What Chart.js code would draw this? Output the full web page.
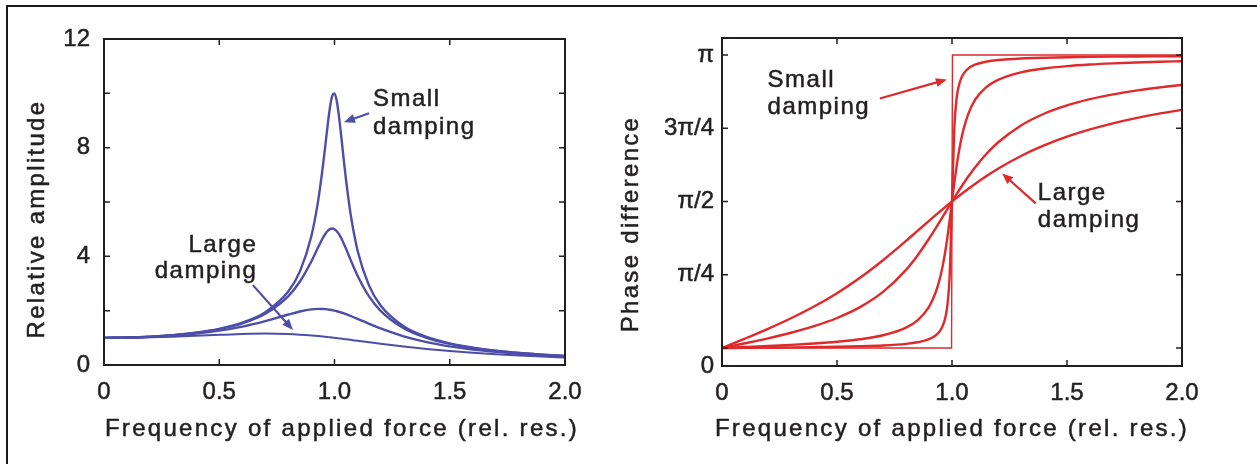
<!DOCTYPE html>
<html>
<head>
<meta charset="utf-8">
<script src="https://cdn.jsdelivr.net/npm/chart.js@4.4.0/dist/chart.umd.min.js"></script>
<style>
  html, body { margin: 0; padding: 0; background: #fff; }
  #wrap { position: relative; width: 1257px; height: 464px; overflow: hidden; }
  #ampChart { position: absolute; left: 0; top: 0; }
  #phaseChart { position: absolute; left: 600px; top: 0; }
  #frame { position: absolute; left: 6px; top: 5px; right: -10px; bottom: -10px;
           border-left: 2px solid #1a1a1a; border-top: 2px solid #1a1a1a; pointer-events: none; }
</style>
</head>
<body>
<div id="wrap">
  <canvas id="ampChart" width="600" height="464"></canvas>
  <canvas id="phaseChart" width="657" height="464"></canvas>
  <div id="frame"></div>
</div>
<script>
// frequency of applied force, relative to resonance
var freq = [0, 0.1, 0.2, 0.3, 0.4, 0.5, 0.6, 0.7, 0.8, 0.85, 0.9, 0.93, 0.95, 0.96, 0.97, 0.98, 0.99, 1.0,
            1.01, 1.02, 1.03, 1.04, 1.05, 1.07, 1.1, 1.15, 1.2, 1.3, 1.4, 1.5, 1.6, 1.7, 1.8, 1.9, 2.0];

// relative amplitude, smallest damping first
var ampSmall = [1.000, 1.010, 1.041, 1.098, 1.189, 1.330, 1.556, 1.943, 2.712, 3.446, 4.757, 6.097, 7.346, 8.068, 8.804, 9.461, 9.903, 10.0,
                9.711, 9.115, 8.357, 7.565, 6.815, 5.552, 4.218, 2.921, 2.193, 1.424, 1.031, 0.794, 0.638, 0.527, 0.445, 0.382, 0.333];
var ampMedium = [1.000, 1.010, 1.041, 1.097, 1.185, 1.322, 1.536, 1.891, 2.538, 3.073, 3.821, 4.350, 4.683, 4.822, 4.931, 5.001, 5.025, 5.000,
                 4.926, 4.809, 4.655, 4.476, 4.279, 3.869, 3.288, 2.524, 1.995, 1.356, 1.000, 0.778, 0.628, 0.521, 0.441, 0.379, 0.330];
var ampLarge = [1.000, 1.009, 1.036, 1.084, 1.158, 1.265, 1.415, 1.617, 1.858, 1.970, 2.047, 2.065, 2.062, 2.056, 2.047, 2.034, 2.019, 2.000,
                1.979, 1.955, 1.928, 1.900, 1.869, 1.804, 1.699, 1.517, 1.344, 1.055, 0.842, 0.686, 0.570, 0.483, 0.414, 0.360, 0.316];
var ampHeavy = [1.000, 1.005, 1.020, 1.044, 1.075, 1.109, 1.140, 1.155, 1.140, 1.118, 1.087, 1.064, 1.047, 1.038, 1.029, 1.020, 1.010, 1.000,
                0.990, 0.980, 0.969, 0.959, 0.948, 0.926, 0.893, 0.837, 0.782, 0.679, 0.589, 0.512, 0.448, 0.393, 0.348, 0.310, 0.277];

// phase difference (radians)
var stepFreq = [0, 0.998, 1.002, 2.0];
var phaseStep = [0, 0, 3.1416, 3.1416];
var phaseTiny = [0, 0.0020, 0.0042, 0.0066, 0.0095, 0.0133, 0.0187, 0.0274, 0.0444, 0.0612, 0.0942, 0.1368, 0.1925, 0.2402, 0.3173, 0.4595, 0.7829, 1.5708,
                 2.3537, 2.6740, 2.8154, 2.8920, 2.9395, 2.9950, 3.0372, 3.0704, 3.0871, 3.1039, 3.1124, 3.1176, 3.1211, 3.1236, 3.1255, 3.1270, 3.1283];
var phaseSmall = [0, 0.0101, 0.0208, 0.0330, 0.0476, 0.0666, 0.0935, 0.1364, 0.2187, 0.2973, 0.4421, 0.6029, 0.7725, 0.8857, 1.0236, 1.1866, 1.3724, 1.5708,
                  1.7672, 1.9480, 2.1049, 2.2359, 2.3441, 2.5052, 2.6593, 2.7990, 2.8754, 2.9554, 2.9968, 3.0222, 3.0394, 3.0519, 3.0614, 3.0689, 3.0750];
var phaseMedium = [0, 0.0505, 0.1038, 0.1634, 0.2337, 0.3218, 0.4383, 0.6014, 0.8380, 0.9925, 1.1716, 1.2881, 1.3683, 1.4089, 1.4496, 1.4902, 1.5306, 1.5708,
                   1.6106, 1.6499, 1.6885, 1.7264, 1.7636, 1.8353, 1.9356, 2.0820, 2.2035, 2.3860, 2.5115, 2.6012, 2.6679, 2.7192, 2.7594, 2.7926, 2.8199];
var phaseLarge = [0, 0.1007, 0.2054, 0.3186, 0.4444, 0.5880, 0.7531, 0.9412, 1.1479, 1.2552, 1.3628, 1.4265, 1.4685, 1.4893, 1.5100, 1.5304, 1.5507, 1.5708,
                  1.5909, 1.6104, 1.6299, 1.6491, 1.6681, 1.7054, 1.7593, 1.8442, 1.9222, 2.0588, 2.1718, 2.2655, 2.3436, 2.4091, 2.4647, 2.5122, 2.5536];

// ticks
var freqTicks = [0, 0.5, 1, 1.5, 2];
var freqTickLabels = ['0', '0.5', '1.0', '1.5', '2.0'];
var ampTicks = [0, 2, 4, 6, 8, 10, 12];
var ampTickLabels = ['0', '', '4', '', '8', '', '12'];
var phaseTicks = [-0.193, 0, 0.7854, 1.5708, 2.3562, 3.1416];
var phaseTickLabels = ['0', '', 'π/4', 'π/2', '3π/4', 'π'];

// annotations (data coordinates)
var ampNotes = [
  { lines: ['Small', 'damping'], x: 1.167, y: [9.53, 8.50], align: 'left', arrow: [1.150, 9.27, 1.041, 8.94] },
  { lines: ['Large', 'damping'], x: 0.665, y: [4.15, 3.20], align: 'right', arrow: [0.646, 2.94, 0.820, 1.29] }
];
var phaseNotes = [
  { lines: ['Small', 'damping'], x: 0.198, y: [2.797, 2.505], align: 'left', arrow: [0.686, 2.675, 0.978, 2.879] },
  { lines: ['Large', 'damping'], x: 1.373, y: [1.586, 1.300], align: 'left', arrow: [1.364, 1.550, 1.218, 1.872] }
];

var ink = '#231f20';
var blue = '#4d4daa';
var red = '#e0292b';
var family = '"Liberation Sans", Arial, sans-serif';

function points(xs, ys) {
  return xs.map(function (x, i) { return { x: x, y: ys[i] }; });
}

function series(xs, ys, color, width, smooth) {
  return {
    data: points(xs, ys),
    borderColor: color,
    borderWidth: width,
    pointRadius: 0,
    fill: false,
    tension: 0,
    cubicInterpolationMode: smooth ? 'monotone' : 'default'
  };
}

function drawArrow(ctx, x1, y1, x2, y2, color) {
  var a = Math.atan2(y2 - y1, x2 - x1), L = 11, W = 4.5;
  var c = Math.cos(a), s = Math.sin(a);
  ctx.strokeStyle = color;
  ctx.fillStyle = color;
  ctx.lineWidth = 2.2;
  ctx.beginPath();
  ctx.moveTo(x1, y1);
  ctx.lineTo(x2 - L * 0.8 * c, y2 - L * 0.8 * s);
  ctx.stroke();
  ctx.beginPath();
  ctx.moveTo(x2, y2);
  ctx.lineTo(x2 - L * c + W * s, y2 - L * s - W * c);
  ctx.lineTo(x2 - L * c - W * s, y2 - L * s + W * c);
  ctx.closePath();
  ctx.fill();
}

// slightly heavier text, like the scanned figure
function heavyText(ctx, text, x, y) {
  ctx.lineWidth = 0.5;
  ctx.strokeStyle = ink;
  ctx.strokeText(text, x, y);
  ctx.fillText(text, x, y);
}

// box, inward ticks, notes and axis titles
function framePlugin(cfg) {
  return {
    id: 'frame',
    afterDraw: function (chart) {
      var ctx = chart.ctx, a = chart.chartArea;
      var xs = chart.scales.x, ys = chart.scales.y;
      ctx.save();
      ctx.strokeStyle = ink;
      ctx.lineWidth = 1.5;
      ctx.beginPath();
      xs.ticks.forEach(function (t) {
        var p = xs.getPixelForValue(t.value);
        ctx.moveTo(p, a.bottom); ctx.lineTo(p, a.bottom - 6);
        ctx.moveTo(p, a.top); ctx.lineTo(p, a.top + 6);
      });
      ys.ticks.forEach(function (t) {
        var p = ys.getPixelForValue(t.value);
        ctx.moveTo(a.left, p); ctx.lineTo(a.left + 6, p);
        ctx.moveTo(a.right, p); ctx.lineTo(a.right - 6, p);
      });
      ctx.stroke();
      ctx.lineWidth = 2;
      ctx.strokeRect(a.left, a.top, a.right - a.left, a.bottom - a.top);

      cfg.notes.forEach(function (n) {
        var r = n.arrow;
        drawArrow(ctx, xs.getPixelForValue(r[0]), ys.getPixelForValue(r[1]),
                  xs.getPixelForValue(r[2]), ys.getPixelForValue(r[3]), cfg.color);
        ctx.fillStyle = ink;
        ctx.font = '24px ' + family;
        ctx.letterSpacing = '1.5px';
        ctx.textAlign = n.align;
        ctx.textBaseline = 'alphabetic';
        n.lines.forEach(function (line, i) {
          heavyText(ctx, line, xs.getPixelForValue(n.x), ys.getPixelForValue(n.y[i]));
        });
      });

      ctx.fillStyle = ink;
      ctx.font = '24px ' + family;
      ctx.letterSpacing = '2.3px';
      ctx.textAlign = 'center';
      ctx.textBaseline = 'middle';
      heavyText(ctx, cfg.xTitle, cfg.xTitleAt[0], cfg.xTitleAt[1]);
      ctx.translate(cfg.yTitleAt[0], cfg.yTitleAt[1]);
      ctx.rotate(-Math.PI / 2);
      heavyText(ctx, cfg.yTitle, 0, 0);
      ctx.restore();
    }
  };
}

function makeChart(id, datasets, yMin, yMax, yTicks, yLabels, yPad, box, cfg) {
  return new Chart(document.getElementById(id), {
    type: 'line',
    data: { datasets: datasets },
    options: {
      responsive: false,
      animation: false,
      layout: { padding: { left: 0, right: box.right, top: box.top, bottom: 0 } },
      plugins: { legend: { display: false }, tooltip: { enabled: false } },
      scales: {
        x: {
          type: 'linear', min: 0, max: 2,
          grid: { display: false, drawTicks: false },
          border: { display: false },
          afterBuildTicks: function (s) { s.ticks = freqTicks.map(function (v) { return { value: v }; }); },
          afterFit: function (s) { s.height = box.bottom; },
          ticks: {
            autoSkip: false, maxRotation: 0, padding: 13, color: ink,
            textStrokeColor: ink, textStrokeWidth: 0.5,
            font: { size: 24, family: family },
            callback: function (v, i) { return freqTickLabels[i]; }
          }
        },
        y: {
          type: 'linear', min: yMin, max: yMax,
          grid: { display: false, drawTicks: false },
          border: { display: false },
          afterBuildTicks: function (s) { s.ticks = yTicks.map(function (v) { return { value: v }; }); },
          afterFit: function (s) { s.width = box.left; },
          ticks: {
            autoSkip: false, padding: yPad, color: ink,
            textStrokeColor: ink, textStrokeWidth: 0.5,
            font: { size: 24, family: family },
            callback: function (v, i) { return yLabels[i]; }
          }
        }
      }
    },
    plugins: [framePlugin(cfg)]
  });
}

makeChart('ampChart', [
  series(freq, ampSmall, blue, 2.4, true),
  series(freq, ampMedium, blue, 2.4, true),
  series(freq, ampLarge, blue, 2.4, true),
  series(freq, ampHeavy, blue, 2, true)
], 0, 12, ampTicks, ampTickLabels, 14, { left: 104, right: 35, top: 39, bottom: 99 }, {
  color: blue, notes: ampNotes,
  xTitle: 'Frequency of applied force (rel. res.)', xTitleAt: [342, 429],
  yTitle: 'Relative amplitude', yTitleAt: [37, 219]
});

makeChart('phaseChart', [
  series(stepFreq, phaseStep, red, 1.4, false),
  series(freq, phaseTiny, red, 2.4, true),
  series(freq, phaseSmall, red, 2.4, true),
  series(freq, phaseMedium, red, 2.4, true),
  series(freq, phaseLarge, red, 2.4, true)
], -0.193, 3.3236, phaseTicks, phaseTickLabels, 8, { left: 122, right: 75, top: 38, bottom: 98 }, {
  color: red, notes: phaseNotes,
  xTitle: 'Frequency of applied force (rel. res.)', xTitleAt: [352, 429],
  yTitle: 'Phase difference', yTitleAt: [31, 224]
});
</script>
</body>
</html>
